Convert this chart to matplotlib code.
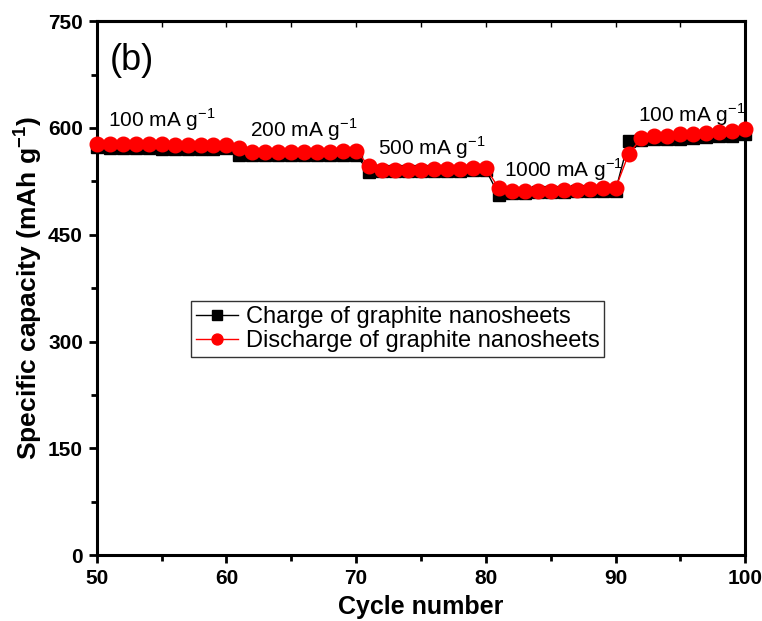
import matplotlib
matplotlib.use('Agg')
import matplotlib.pyplot as plt
from matplotlib.ticker import MultipleLocator

plt.rcParams['font.family'] = ['Liberation Sans', 'DejaVu Sans']
plt.rcParams['mathtext.fontset'] = 'custom'
plt.rcParams['mathtext.rm'] = 'Liberation Sans'
plt.rcParams['mathtext.bf'] = 'Liberation Sans:bold'

# cycle numbers
cycles = list(range(50, 101))

# charge capacity (mAh/g)
charge = [573,
          572, 572, 572, 572, 571, 571, 571, 571, 571, 572,      # 51-60
          562, 562, 562, 562, 562, 562, 562, 562, 562, 562,      # 61-70
          538, 539, 539, 539, 539, 540, 540, 540, 541, 541,      # 71-80
          506, 509, 509, 510, 510, 510, 511, 511, 512, 512,      # 81-90
          581, 583, 584, 585, 585, 586, 587, 588, 589, 591]      # 91-100

# discharge capacity (mAh/g)
discharge = [578,
             577, 577, 577, 577, 577, 576, 576, 576, 576, 576,   # 51-60
             572, 566, 566, 566, 566, 566, 566, 566, 567, 568,   # 61-70
             546, 541, 541, 541, 541, 542, 542, 543, 544, 544,   # 71-80
             515, 511, 511, 512, 512, 513, 513, 514, 515, 515,   # 81-90
             563, 586, 588, 589, 591, 592, 593, 594, 596, 598]   # 91-100

rate_labels = ['100 mA g$^{-1}$', '200 mA g$^{-1}$', '500 mA g$^{-1}$',
               '1000 mA g$^{-1}$', '100 mA g$^{-1}$']
rate_x = [50.85, 61.8, 71.7, 81.4, 91.75]
rate_y = [601, 588, 562, 532, 608]

fig = plt.figure(figsize=(7.62, 6.21), dpi=100)
ax = fig.add_axes([0.127, 0.106, 0.851, 0.860])

ax.plot(cycles, charge, '-s', color='black', lw=1, ms=8.8, mec='black',
        label='Charge of graphite nanosheets', clip_on=False, zorder=3)
ax.plot(cycles, discharge, '-o', color='red', lw=1, ms=10.5, mec='red',
        label='Discharge of graphite nanosheets', clip_on=False, zorder=4)

for lab, x, y in zip(rate_labels, rate_x, rate_y):
    ax.text(x, y, lab, fontsize=15, va='baseline', ha='left')

ax.text(51.0, 681, '(b)', fontsize=26, va='baseline', ha='left')

ax.set_xlim(50, 100)
ax.set_ylim(0, 750)
ax.xaxis.set_major_locator(MultipleLocator(10))
ax.xaxis.set_minor_locator(MultipleLocator(5))
ax.yaxis.set_major_locator(MultipleLocator(150))
ax.yaxis.set_minor_locator(MultipleLocator(75))

for s in ax.spines.values():
    s.set_linewidth(2.2)
ax.tick_params(which='both', direction='out', width=2, top=False, right=False)
ax.tick_params(which='major', length=6, labelsize=15, pad=4)
ax.tick_params(which='minor', length=4)
for lab in ax.get_xticklabels() + ax.get_yticklabels():
    lab.set_fontweight('bold')

# small inward ticks on the top axis
top = ax.secondary_xaxis('top')
top.xaxis.set_major_locator(MultipleLocator(5))
top.tick_params(direction='in', length=4, width=1, labeltop=False)
top.spines['top'].set_linewidth(2.2)

ax.set_xlabel('Cycle number', fontsize=18, fontweight='bold', labelpad=5)
ax.set_ylabel('Specific capacity (mAh g$^{\\mathbf{-1}}$)', fontsize=19,
              fontweight='bold', labelpad=3)

leg = ax.legend(loc='center', bbox_to_anchor=(0.464, 0.423), fontsize=17,
                frameon=True, fancybox=False, edgecolor='black',
                handlelength=1.8, handletextpad=0.3, borderpad=0.2,
                labelspacing=0.1, markerscale=0.75, borderaxespad=0)
leg.get_frame().set_linewidth(1)

fig.savefig('out.png', dpi=100)
